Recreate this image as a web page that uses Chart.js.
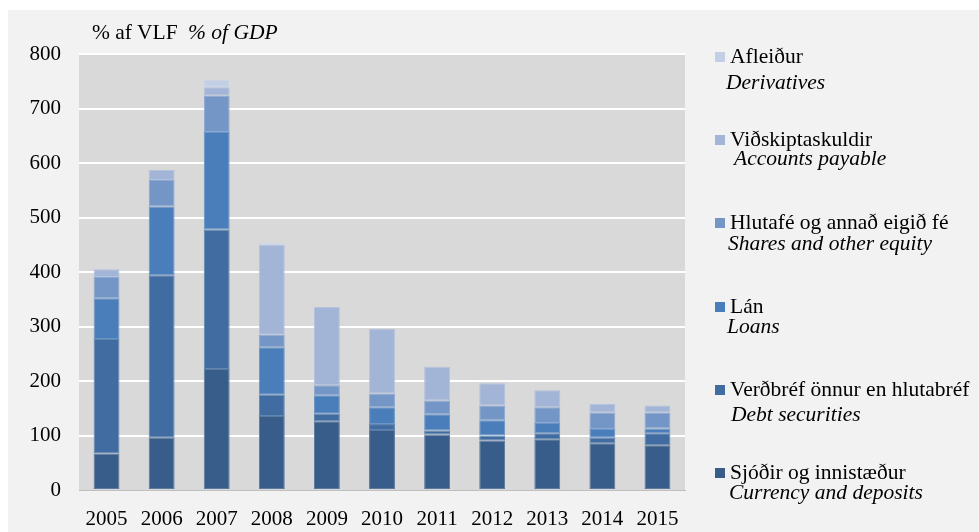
<!DOCTYPE html>
<html>
<head>
<meta charset="utf-8">
<script src="https://cdn.jsdelivr.net/npm/chart.js@4/dist/chart.umd.min.js"></script>
<style>
  html, body { margin: 0; padding: 0; background: #fff; }
  #panel { position: absolute; left: 8px; top: 10px; width: 971px; height: 522px; background: #f2f2f2; }
  #wrap { position: absolute; left: 0; top: 0; width: 979px; height: 532px; }
  .txt { position: absolute; font-family: 'Liberation Serif', 'Times New Roman', serif; font-size: 21.5px;
         line-height: 21px; color: #000; white-space: nowrap; }
  .it { font-style: italic; }
  .mk { position: absolute; width: 10px; height: 10px; }
</style>
</head>
<body>
<div id="panel"></div>
<div id="wrap"><canvas id="chart" width="979" height="532"></canvas></div>
<div id="legend"></div>
<script>
const years = ['2005', '2006', '2007', '2008', '2009', '2010', '2011', '2012', '2013', '2014', '2015'];

// % of GDP, bottom of stack first
const currency    = [67, 96, 222, 136, 126, 110, 102, 91, 93, 86, 82];
const debtSec     = [210, 298, 256, 39, 14, 11, 7, 9, 11, 10, 22];
const loans       = [75, 126, 179, 87, 34, 31, 30, 28, 19, 16, 9];
const shares      = [39, 49, 67, 23, 18, 25, 25, 27, 29, 30, 29];
const payable     = [14, 18, 15, 165, 144, 119, 62, 41, 31, 16, 13];
const derivatives = [0, 0, 14, 3, 0, 0, 0, 0, 0, 0, 0];

const namesIs = ['Sjóðir og innistæður', 'Verðbréf önnur en hlutabréf', 'Lán',
                 'Hlutafé og annað eigið fé', 'Viðskiptaskuldir', 'Afleiður'];
const namesEn = ['Currency and deposits', 'Debt securities', 'Loans',
                 'Shares and other equity', 'Accounts payable', 'Derivatives'];
const colors = ['#385d8a', '#406ca1', '#4a7ebb', '#7396c7', '#a3b5d7', '#c3cfe5'];
const yTicks = [0, 100, 200, 300, 400, 500, 600, 700, 800];

const series = [currency, debtSec, loans, shares, payable, derivatives];
const serif = "'Liberation Serif', 'Times New Roman', serif";

// slightly lighter edge for each bar segment
function lighten(hex, t) {
  const n = parseInt(hex.slice(1), 16);
  const c = [n >> 16, (n >> 8) & 255, n & 255].map(v => Math.round(v + (255 - v) * t));
  return 'rgb(' + c.join(',') + ')';
}

const plotBg = {
  id: 'plotBg',
  beforeDraw(chart) {
    const { ctx, chartArea: a } = chart;
    ctx.save();
    ctx.fillStyle = '#d9d9d9';
    ctx.fillRect(a.left, a.top, a.right - a.left, a.bottom - a.top);
    ctx.restore();
  }
};

new Chart(document.getElementById('chart'), {
  type: 'bar',
  data: {
    labels: years,
    datasets: series.map((vals, i) => ({
      label: namesIs[i],
      data: vals,
      backgroundColor: colors[i],
      borderColor: lighten(colors[i], 0.18),
      borderWidth: 1,
      borderSkipped: false,
      categoryPercentage: 1,
      barPercentage: 0.47
    }))
  },
  options: {
    responsive: false,
    animation: false,
    layout: { padding: { left: 0, top: 54, right: 294, bottom: 0 } },
    plugins: { legend: { display: false }, title: { display: false }, tooltip: { enabled: false } },
    scales: {
      x: {
        stacked: true,
        grid: { display: false },
        border: { color: '#bfbfbf', width: 1 },
        ticks: { color: '#000', font: { family: serif, size: 21 }, padding: 9, maxRotation: 0 },
        afterFit(s) { s.height = 42; }
      },
      y: {
        stacked: true,
        min: 0,
        max: 800,
        afterBuildTicks(s) { s.ticks = yTicks.map(v => ({ value: v })); },
        grid: {
          color: (c) => c.tick && c.tick.value === 0 ? 'rgba(0,0,0,0)' : '#ffffff',
          lineWidth: 2,
          drawTicks: false
        },
        border: { display: false },
        ticks: { color: '#000', font: { family: serif, size: 21 }, padding: 18 },
        afterFit(s) { s.width = 79; }
      }
    }
  },
  plugins: [plotBg]
});

// title and legend as text
const legend = document.getElementById('legend');
function addText(txt, x, y, cls) {
  const d = document.createElement('div');
  d.className = 'txt' + (cls ? ' ' + cls : '');
  d.textContent = txt;
  d.style.left = x + 'px';
  d.style.top = y + 'px';
  legend.appendChild(d);
}
addText('% af VLF', 92, 22);
addText('% of GDP', 188, 22, 'it');

const enIndent = [729, 731, 727, 728, 734, 726];
const enGap = [20, 25, 20, 21, 19, 26];
for (let k = 0; k < 6; k++) {
  const i = 5 - k;               // top of legend = top of stack
  const cy = 57 + k * 83.2;
  const mk = document.createElement('div');
  mk.className = 'mk';
  mk.style.background = colors[i];
  mk.style.left = '715px';
  mk.style.top = (cy - 5) + 'px';
  legend.appendChild(mk);
  addText(namesIs[i], 730, cy - 11);
  addText(namesEn[i], enIndent[i], cy - 11 + enGap[i], 'it');
}
</script>
</body>
</html>
